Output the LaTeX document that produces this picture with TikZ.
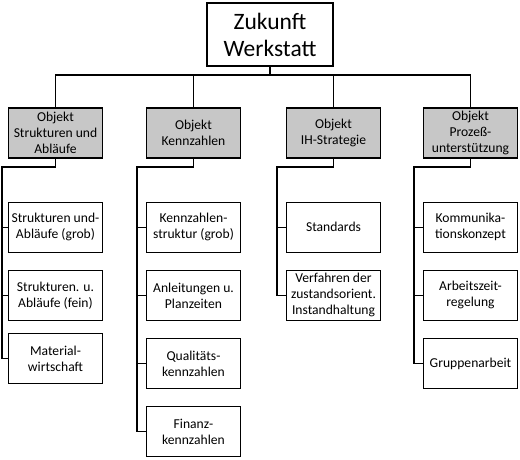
\documentclass[tikz,border=0pt]{standalone}
\usepackage{fontspec}
\setmainfont{Carlito}
\usepackage{tikz}
\usetikzlibrary{positioning}
\definecolor{objgray}{gray}{0.78}

\begin{document}
\begin{tikzpicture}[x=1pt,y=-1pt,
  box/.style={draw,rectangle,black,line width=1.2pt,align=center,minimum width=94pt,minimum height=50pt,inner sep=1pt,font=\fontsize{13.6}{16}\selectfont},
  objbox/.style={box,fill=objgray},
  link/.style={draw,black,line width=1.2pt}]%
\useasboundingbox (0,0) rectangle (520,460);%
% top level
\node[box,line width=2pt,minimum width=126pt,minimum height=63pt,font=\fontsize{23.5}{27}\selectfont] (top) at (270,34.5) {Zukunft\\Werkstatt};%
% objects
\node[objbox] (obj1) at (55.5,133) {Objekt\\Strukturen und\\Abläufe};%
\node[objbox] (obj2) at (193.5,133) {Objekt\\Kennzahlen};%
\node[objbox] (obj3) at (333.5,133) {Objekt\\IH-Strategie};%
\node[objbox] (obj4) at (470.5,133) {Objekt\\Prozeß-\\unterstützung};%
% column 1
\node[box,below=43pt of obj1] (s11) {Strukturen und-\\Abläufe (grob)};%
\node[box,below=17pt of s11] (s12) {Strukturen. u.\\Abläufe (fein)};%
\node[box,below=12pt of s12] (s13) {Material-\\wirtschaft};%
% column 2
\node[box,below=43pt of obj2] (s21) {Kennzahlen-\\struktur (grob)};%
\node[box,below=17pt of s21] (s22) {Anleitungen u.\\Planzeiten};%
\node[box,below=17pt of s22] (s23) {Qualitäts-\\kennzahlen};%
\node[box,below=17pt of s23] (s24) {Finanz-\\kennzahlen};%
% column 3
\node[box,below=43pt of obj3] (s31) {Standards};%
\node[box,below=17pt of s31] (s32) {Verfahren der\\zustandsorient.\\Instandhaltung};%
% column 4
\node[box,below=43pt of obj4] (s41) {Kommunika-\\tionskonzept};%
\node[box,below=17pt of s41] (s42) {Arbeitszeit-\\regelung};%
\node[box,below=17pt of s42] (s43) {Gruppenarbeit};%
% connectors
\coordinate (bus) at (270,75);%
\draw[link] (top.south) -- (bus);%
\draw[link] (obj1.north) |- (bus) -| (obj4.north);%
\draw[link] (obj2.north) -- (obj2.north |- bus);%
\draw[link] (obj3.north) -- (obj3.north |- bus);%
\coordinate (r1) at (2,167);%
\coordinate (r2) at (137,167);%
\coordinate (r3) at (277,167);%
\coordinate (r4) at (414,167);%
\draw[link] (obj1.south) |- (r1) |- (s13.west);%
\draw[link] (obj2.south) |- (r2) |- (s24.west);%
\draw[link] (obj3.south) |- (r3) |- (s32.west);%
\draw[link] (obj4.south) |- (r4) |- (s43.west);%
\foreach \b/\r in {s11/r1,s12/r1,s21/r2,s22/r2,s23/r2,s31/r3,s41/r4,s42/r4}
  \draw[link] (\b.west) -- (\b.west -| \r);%
\end{tikzpicture}
\end{document}
